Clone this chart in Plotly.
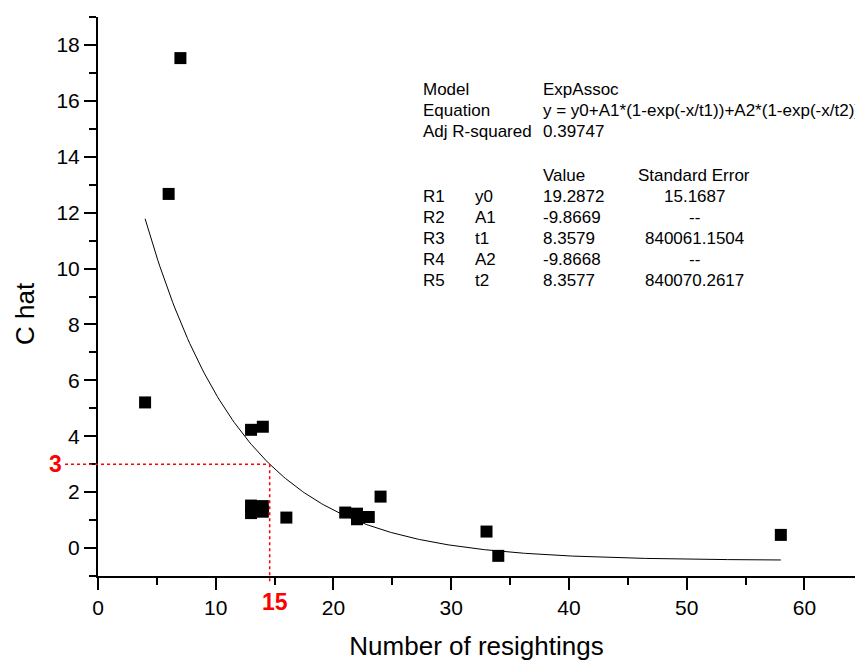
import numpy as np
import plotly.graph_objects as go

# ---------------- data ----------------
x_obs = [4, 6, 7, 13, 14, 13, 13, 14, 14, 16, 21, 22, 22, 23, 24, 33, 34, 58]
y_obs = [5.21, 12.67, 17.53, 4.23, 4.34, 1.25, 1.52, 1.30, 1.50, 1.09, 1.27, 1.23, 1.03, 1.11, 1.84, 0.59, -0.28, 0.47]

# fitted ExpAssoc parameters (as printed in the table)
fit_y0 = 19.2872
fit_A1 = -9.8669
fit_t1 = 8.3579
fit_A2 = -9.8668
fit_t2 = 8.3577
fit_xmin, fit_xmax = 4, 58

guide_y = 3          # C hat threshold
guide_x_label = 15   # label shown under the axis

table_rows = ["R1", "R2", "R3", "R4", "R5"]
table_params = ["y0", "A1", "t1", "A2", "t2"]
table_values = ["19.2872", "-9.8669", "8.3579", "-9.8668", "8.3577"]
table_errors = ["15.1687", "--", "840061.1504", "--", "840070.2617"]

x_ticks = [0, 10, 20, 30, 40, 50, 60]
y_ticks = [0, 2, 4, 6, 8, 10, 12, 14, 16, 18]

X_RANGE = [0, 64.3]
Y_RANGE = [-1.0005, 19.0005]

FONT = "Arial, 'Liberation Sans', sans-serif"
W, H = 855, 661
ML, MR, MT, MB = 98, 0, 17, 85
PW, PH = W - ML - MR, H - MT - MB


def model(x):
    return (fit_y0 + fit_A1 * (1 - np.exp(-x / fit_t1))
            + fit_A2 * (1 - np.exp(-x / fit_t2)))


# x where fitted curve crosses guide_y (bisection)
lo, hi = fit_xmin, fit_xmax
for _ in range(80):
    mid = 0.5 * (lo + hi)
    if model(mid) > guide_y:
        lo = mid
    else:
        hi = mid
guide_x = 0.5 * (lo + hi)


def dpx(v):  # data x -> paper
    return (v - X_RANGE[0]) / (X_RANGE[1] - X_RANGE[0])


def dpy(v):  # data y -> paper
    return (v - Y_RANGE[0]) / (Y_RANGE[1] - Y_RANGE[0])


def ppx(p):  # pixel x -> paper
    return (p - ML) / PW


def ppy(p):  # pixel y -> paper
    return (MT + PH - p) / PH


xc = np.linspace(fit_xmin, fit_xmax, 300)

fig = go.Figure()
fig.add_trace(go.Scatter(x=xc, y=model(xc), mode="lines",
                         line=dict(color="black", width=1), hoverinfo="skip",
                         showlegend=False))
fig.add_trace(go.Scatter(x=x_obs, y=y_obs, mode="markers",
                         marker=dict(symbol="square", size=12, color="black",
                                     line=dict(width=0)),
                         showlegend=False))

# red guide lines
red = "#ff0000"
fig.add_shape(type="line", xref="paper", yref="paper",
              x0=ppx(65), x1=dpx(guide_x), y0=dpy(guide_y), y1=dpy(guide_y),
              line=dict(color=red, width=1.5, dash="3px,3px"))
fig.add_shape(type="line", xref="paper", yref="paper",
              x0=dpx(guide_x), x1=dpx(guide_x), y0=dpy(guide_y), y1=ppy(582),
              line=dict(color=red, width=1.5, dash="3px,3px"))

ann = []
ann.append(dict(text="<b>%d</b>" % guide_y, xref="paper", yref="paper",
                x=ppx(55.5), y=dpy(guide_y), xanchor="center", yanchor="middle",
                showarrow=False, font=dict(family=FONT, size=23, color=red)))
ann.append(dict(text="<b>%d</b>" % guide_x_label, xref="paper", yref="paper",
                x=dpx(guide_x_label), y=ppy(602), xanchor="center", yanchor="middle",
                showarrow=False, font=dict(family=FONT, size=23, color=red)))

# y axis title
ann.append(dict(text="C hat", xref="paper", yref="paper", x=ppx(25), y=ppy(314),
                xanchor="center", yanchor="middle", textangle=-90, showarrow=False,
                font=dict(family=FONT, size=26, color="black")))

# table text
tf = dict(family=FONT, size=17, color="black")


def t(text, px, py, anchor="left"):
    ann.append(dict(text=text, xref="paper", yref="paper", x=ppx(px), y=ppy(py),
                    xanchor=anchor, yanchor="middle", showarrow=False, font=tf))


col1, col2, col3, col4 = 421, 473, 541, 694
t("Model", col1, 89.5)
t("ExpAssoc", col3, 89.5)
t("Equation", col1, 110.5)
t("y = y0+A1*(1-exp(-x/t1))+A2*(1-exp(-x/t2))", col3, 110.5)
t("Adj R-squared", col1, 131)
t("0.39747", col3, 131)
t("Value", col3, 175.5)
t("Standard Error", col4, 175.5, "center")
for i in range(len(table_rows)):
    yy = 196.5 + 21 * i
    t(table_rows[i], col1, yy)
    t(table_params[i], col2, yy)
    t(table_values[i], col3, yy)
    t(table_errors[i], col4, yy, "center")

fig.update_layout(
    width=W, height=H,
    margin=dict(l=ML, r=MR, t=MT, b=MB, autoexpand=False),
    paper_bgcolor="white", plot_bgcolor="white",
    font=dict(family=FONT, color="black"),
    annotations=ann,
    showlegend=False,
)

fig.update_xaxes(
    range=X_RANGE, tickvals=x_ticks, ticktext=[str(v) for v in x_ticks],
    showgrid=False, zeroline=False, showline=True, linecolor="black", linewidth=2,
    ticks="outside", ticklen=12, tickwidth=2, tickcolor="black",
    minor=dict(ticks="outside", ticklen=7, tickwidth=2, tickcolor="black",
               tickvals=[5, 15, 25, 35, 45, 55]),
    tickfont=dict(family=FONT, size=21, color="black"),
    title=dict(text="Number of resightings", font=dict(family=FONT, size=26, color="black"),
               standoff=19),
    automargin=False,
)
fig.update_yaxes(
    range=Y_RANGE, tickvals=y_ticks, ticktext=[str(v) for v in y_ticks],
    showgrid=False, zeroline=False, showline=True, linecolor="black", linewidth=2,
    ticks="outside", ticklen=12, tickwidth=2, tickcolor="black",
    minor=dict(ticks="outside", ticklen=7, tickwidth=2, tickcolor="black",
               tickvals=[-1, 1, 3, 5, 7, 9, 11, 13, 15, 17, 19]),
    tickfont=dict(family=FONT, size=21, color="black"),
    automargin=False,
)

fig.write_html("out.html")
